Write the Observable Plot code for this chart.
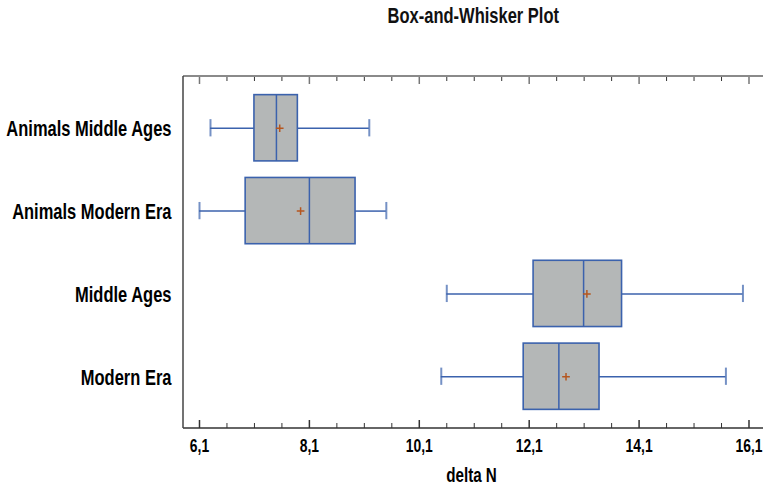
<!DOCTYPE html>
<html><head><meta charset="utf-8">
<script src="https://cdn.jsdelivr.net/npm/d3@7"></script>
<script src="https://cdn.jsdelivr.net/npm/@observablehq/plot@0.6"></script>
<style>
body{margin:0;background:#fff;}
#title{width:763px;height:36px;padding-left:183px;text-align:center;font-family:"Liberation Sans",Arial,sans-serif;font-weight:bold;font-size:22px;line-height:22px;padding-top:5px;box-sizing:border-box;color:#111;}
#title span{display:inline-block;transform:scaleX(0.75);}
</style></head><body>
<div id="title"><span>Box-and-Whisker Plot</span></div>
<div id="chart"></div>
<script>
// data
const categories = ["Animals Middle Ages", "Animals Modern Era", "Middle Ages", "Modern Era"];
const whiskerLow  = [6.30, 6.10, 10.60, 10.50];
const q1          = [7.10, 6.94, 12.18, 12.00];
const median      = [7.50, 8.10, 13.09, 12.64];
const mean        = [7.56, 7.94, 13.15, 12.77];
const q3          = [7.89, 8.94, 13.79, 13.38];
const whiskerHigh = [9.19, 9.50, 15.99, 15.68];
const majorTicks = [6.1, 8.1, 10.1, 12.1, 14.1, 16.1];
const minorTicks = [6.6, 7.1, 7.6, 8.6, 9.1, 9.6, 10.6, 11.1, 11.6, 12.6, 13.1, 13.6, 14.6, 15.1, 15.6];
const xDomain = [5.809, 16.364];

const boxes = categories.map((c, i) => ({cat: c, lo: whiskerLow[i], q1: q1[i], med: median[i], mean: mean[i], q3: q3[i], hi: whiskerHigh[i]}));

const W = 763, H = 448, MT = 40, MB = 56, ML = 183, MR = 0;
const FH = H - MT - MB;
const blue = "#3b62ad";
const K = 0.76;

function frameLines(index, scales, values, dims) {
  const {width, height, marginTop, marginBottom, marginLeft, marginRight} = dims;
  const g = d3.create("svg:g");
  g.append("line").attr("x1", marginLeft).attr("x2", width - marginRight)
    .attr("y1", marginTop).attr("y2", marginTop).attr("stroke", "#8a8a8a").attr("stroke-width", 2);
  g.append("line").attr("x1", marginLeft).attr("x2", width - marginRight)
    .attr("y1", height - marginBottom).attr("y2", height - marginBottom).attr("stroke", "#333").attr("stroke-width", 1.5);
  g.append("line").attr("x1", marginLeft).attr("x2", marginLeft)
    .attr("y1", marginTop).attr("y2", height - marginBottom).attr("stroke", "#444").attr("stroke-width", 1.5);
  return g.node();
}

const chart = Plot.plot({
  width: W, height: H,
  marginTop: MT, marginBottom: MB, marginLeft: ML, marginRight: MR,
  style: {fontFamily: "Liberation Sans, Arial, sans-serif", fontWeight: "bold", color: "#000", background: "#fff"},
  x: {domain: xDomain},
  y: {domain: categories, paddingInner: 0.2, paddingOuter: 0.225, round: false},
  marks: [
    Plot.ruleY(boxes, {y: "cat", x1: "lo", x2: "q1", stroke: blue, strokeWidth: 1.5}),
    Plot.ruleY(boxes, {y: "cat", x1: "q3", x2: "hi", stroke: blue, strokeWidth: 1.5}),
    Plot.tickX(boxes, {y: "cat", x: "lo", insetTop: 24.5, insetBottom: 24.5, stroke: blue, strokeWidth: 2, strokeOpacity: 0.7}),
    Plot.tickX(boxes, {y: "cat", x: "hi", insetTop: 24.5, insetBottom: 24.5, stroke: blue, strokeWidth: 2, strokeOpacity: 0.7}),
    Plot.barX(boxes, {y: "cat", x1: "q1", x2: "q3", fill: "#b4b7b7", stroke: blue, strokeWidth: 1.6}),
    Plot.tickX(boxes, {y: "cat", x: "med", stroke: blue, strokeWidth: 1.5}),
    Plot.dot(boxes, {y: "cat", x: "mean", symbol: "plus", r: 2.6, stroke: "#b5561f", strokeWidth: 1.5}),
    Plot.ruleX(majorTicks, {x: d => d, insetTop: FH - 8, stroke: "#333", strokeWidth: 1.5}),
    Plot.ruleX(minorTicks, {x: d => d, insetTop: FH - 5, stroke: "#333", strokeWidth: 1}),
    Plot.ruleX(majorTicks, {x: d => d, insetBottom: FH - 8, stroke: "#777", strokeWidth: 1.5}),
    Plot.ruleX(minorTicks, {x: d => d, insetBottom: FH - 5, stroke: "#333", strokeWidth: 1}),
    frameLines,
    Plot.axisX({ticks: majorTicks, tickSize: 0, tickPadding: 10, fontSize: 19, label: null,
      tickFormat: d => d.toFixed(1).replace(".", ",")}),
    Plot.axisY({tickSize: 0, tickPadding: 12, fontSize: 21.7, dy: 1, label: null}),
    Plot.text(["delta N"], {frameAnchor: "bottom", dy: 53, dx: -2, lineAnchor: "bottom", fontSize: 20, fill: "#000"})
  ]
});
document.getElementById("chart").append(chart);
chart.querySelectorAll("text").forEach(t => {
  const w = t.getComputedTextLength();
  if (w > 0) {
    const isTick = /^\d+,\d$/.test(t.textContent);
    t.setAttribute("textLength", w * (isTick ? 0.73 : K));
    t.setAttribute("lengthAdjust", "spacingAndGlyphs");
  }
});
</script>
</body></html>
